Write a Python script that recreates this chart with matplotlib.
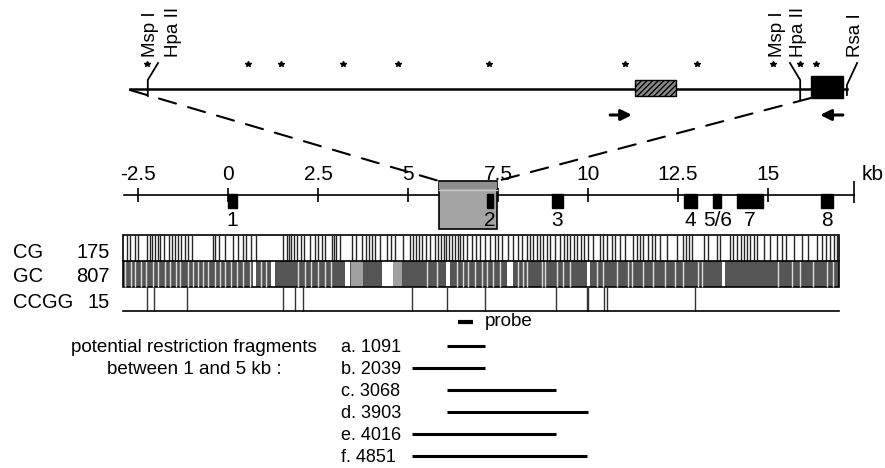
import numpy as np
import matplotlib
matplotlib.use("Agg")
import matplotlib.pyplot as plt
from matplotlib.patches import Rectangle, ConnectionPatch

plt.rcParams['font.family'] = ['Liberation Sans', 'DejaVu Sans']
plt.rcParams['hatch.color'] = '#222222'

# ---- data (kb on the map, bp on the enlarged top segment) ----
tick_kb = [-2.5, 0, 2.5, 5, 7.5, 10, 12.5, 15]
tick_lab = ['-2.5', '0', '2.5', '5', '7.5', '10', '12.5', '15']
map_start, map_end = -2.9, 17.4

exon_names = ['1', '2', '3', '4', '5/6', '7', '8']
exon_start = [0.0, 7.2, 9.0, 12.67, 13.47, 14.14, 16.47]
exon_end = [0.25, 7.35, 9.3, 13.03, 13.69, 14.86, 16.8]
exon_lab_x = [0.13, 7.27, 9.15, 12.85, 13.6, 14.5, 16.63]

zoom_box = (5.86, 7.47)
probe = (6.39, 6.81)

cg_sites = [-2.81, -2.72, -2.58, -2.50, -2.25, -2.18, -2.11, -2.03, -1.94, -1.89,
            -1.78, -1.63, -1.56, -1.46, -1.39, -1.31, -1.19, -1.10, -1.00, -0.43,
            -0.35, -0.24, -0.08, 0.15, 0.29, 0.42, 0.51, 0.65, 0.79, 1.54,
            1.63, 1.69, 1.76, 1.83, 1.92, 2.03, 2.11, 2.28, 2.42, 2.50,
            2.60, 2.69, 2.88, 2.94, 3.00, 3.11, 3.44, 3.56, 3.72, 3.83,
            3.92, 4.00, 4.08, 4.22, 4.42, 4.53, 4.64, 4.86, 5.06, 5.14,
            5.22, 5.31, 5.39, 5.50, 5.61, 5.75, 5.83, 5.92, 6.00, 6.06,
            6.13, 6.22, 6.31, 6.38, 6.44, 6.54, 6.64, 6.78, 6.89, 7.00,
            7.14, 7.28, 7.42, 7.51, 7.61, 7.79, 7.93, 8.06, 8.17, 8.31,
            8.39, 8.47, 8.58, 8.67, 8.76, 8.85, 8.94, 9.08, 9.22, 9.32,
            9.42, 9.50, 9.61, 9.69, 9.81, 9.90, 10.00, 10.14, 10.33, 10.43,
            10.53, 10.67, 10.75, 10.89, 11.03, 11.25, 11.36, 11.44, 11.54, 11.67,
            11.78, 11.86, 12.00, 12.19, 12.47, 12.64, 12.72, 12.81, 12.89, 13.21,
            13.33, 13.58, 13.67, 13.94, 14.04, 14.14, 14.24, 14.32, 14.42, 14.50,
            14.60, 14.69, 14.88, 15.06, 15.25, 15.39, 15.50, 15.71, 15.94, 16.11,
            16.36, 16.50, 16.61, 16.72, 16.82, 16.92]

# GC track: gaps between the dense GC sites
gc_thin_gaps = [-2.86, -2.69, -2.58, -2.42, -2.28, -2.08, -1.94, -1.75, -1.61, -1.44,
                -1.33, -1.11, -0.97, -0.83, -0.69, -0.56, -0.36, -0.22, -0.08, 0.08,
                0.25, 0.42, 0.61, 0.92, 1.06, 1.94, 2.14, 2.31, 2.50, 2.69,
                2.86, 5.52, 5.80, 6.35, 6.54, 6.68, 6.86, 7.05, 7.19, 7.37,
                7.56, 8.06, 8.20, 8.30, 8.71, 8.81, 9.13, 9.31, 9.50, 10.24,
                10.43, 10.80, 11.12, 11.21, 11.54, 11.81, 12.14, 12.42, 12.65, 13.06,
                13.16, 15.29, 15.66, 15.89, 16.26, 16.63, 16.81]
gc_wide_gaps = [(0.69, 0.79), (1.19, 1.31), (3.24, 3.38), (4.27, 4.59), (6.06, 6.17),
                (7.74, 7.93), (9.96, 10.06), (13.71, 13.81)]
gc_sparse = [(3.42, 3.75), (4.58, 4.83)]

ccgg_sites = [-2.25, -2.06, -1.14, 1.53, 1.86, 2.08, 5.11, 6.08, 7.14, 9.11,
              9.96, 10.0, 10.44, 10.53, 12.97]

frag_labels = ['a. 1091', 'b. 2039', 'c. 3068', 'd. 3903', 'e. 4016', 'f. 4851']
frag_start = [6.08, 5.11, 6.08, 6.08, 5.11, 5.11]
frag_end = [7.14, 7.14, 9.11, 10.0, 9.11, 9.96]

# enlarged segment (bp from the left end of the line)
seg_len = 1611
top_dots = [38, 265, 339, 479, 602, 807, 1112, 1274, 1445, 1506, 1542]
hatched = (1135, 1227)
black_box = (1530, 1602)
site_labels = ['Msp I', 'Hpa II', 'Msp I', 'Hpa II', 'Rsa I']
site_label_x = [45, 97, 1456, 1503, 1631]
arrow_fwd = (1079, 1128)
arrow_rev = (1602, 1551)

# ---- figure ----
fig = plt.figure(figsize=(8.85, 4.68), dpi=100)
ax = fig.add_axes([0, 0, 1, 1])
ax.set_xlim(-228 / 36, 657 / 36)
ax.set_ylim(468, 0)
ax.axis('off')

top = fig.add_axes([0, 0, 1, 1])
top.set_xlim(-130 / 0.445, 755 / 0.445)
top.set_ylim(468, 0)
top.axis('off')
top.patch.set_alpha(0)

fs = 15

# top segment
top.plot([0, seg_len], [89, 89], color='k', lw=1.8, zorder=2)
top.plot(top_dots, [64] * len(top_dots), ls='none', marker='*', ms=4, color='k')
top.add_patch(Rectangle((hatched[0], 80), hatched[1] - hatched[0], 16,
                        facecolor='#8a8a8a', edgecolor='k', lw=1, hatch='//////', zorder=3))
top.add_patch(Rectangle((black_box[0], 76), black_box[1] - black_box[0], 22,
                        facecolor='k', edgecolor='k', zorder=3))
top.plot([40, 40, 63], [96, 80, 63], color='k', lw=1.3)
top.plot([1483, 1506, 1506], [63, 80, 100], color='k', lw=1.3)
top.plot([1634, 1611, 1611], [63, 85, 95], color='k', lw=1.3)
for lab, x in zip(site_labels, site_label_x):
    top.text(x, 57, lab, rotation=90, ha='center', va='bottom', fontsize=13.5)
for a in (arrow_fwd, arrow_rev):
    top.annotate('', xy=(a[1], 115), xytext=(a[0], 115),
                 arrowprops=dict(arrowstyle='-|>', lw=2.2, color='k', mutation_scale=16,
                                 shrinkA=0, shrinkB=0))

# dashed connectors
for bp, y0, kb in [(0, 90, zoom_box[0]), (black_box[0], 98, zoom_box[1])]:
    con = ConnectionPatch(xyA=(bp, y0), coordsA=top.transData,
                          xyB=(kb, 181), coordsB=ax.transData,
                          ls=(0, (8.5, 6)), lw=1.5, color='k', zorder=1)
    fig.add_artist(con)

# kb map
ax.plot([map_start, map_end], [195, 195], color='k', lw=1.2)
ax.vlines(tick_kb, 188, 202, color='k', lw=1.2)
ax.vlines([map_end], 181, 203, color='k', lw=1.2)
for x, lab in zip(tick_kb, tick_lab):
    ax.text(x, 174, lab, ha='center', va='center', fontsize=fs)
ax.text(map_end + 0.2, 174, 'kb', ha='left', va='center', fontsize=fs)

ax.add_patch(Rectangle((zoom_box[0], 181), zoom_box[1] - zoom_box[0], 48,
                       facecolor='#a4a4a4', edgecolor='k', lw=1.2, zorder=4))
ax.add_patch(Rectangle((zoom_box[0], 182), zoom_box[1] - zoom_box[0], 7,
                       facecolor='#8e8e8e', edgecolor='none', zorder=4))
ax.plot(zoom_box, [190, 190], color='#c8c8c8', lw=1, zorder=4)

for s, e in zip(exon_start, exon_end):
    ax.add_patch(Rectangle((s, 194), e - s, 14, facecolor='k', edgecolor='k', zorder=5))
for x, lab in zip(exon_lab_x, exon_names):
    ax.text(x, 221, lab, ha='center', va='center', fontsize=fs, zorder=6)

# sequence tracks
t0, t1 = -2.92, 16.97
ax.vlines(cg_sites, 235, 261, color='#262626', lw=1.0)
ax.add_patch(Rectangle((t0, 261), t1 - t0, 26, facecolor='#555555', edgecolor='none'))
ax.vlines(gc_thin_gaps, 261, 287, color='white', lw=1.0, alpha=0.8)
for s, e in gc_wide_gaps:
    ax.add_patch(Rectangle((s, 261), e - s, 26, facecolor='white', edgecolor='none'))
for s, e in gc_sparse:
    ax.add_patch(Rectangle((s, 261), e - s, 26, facecolor='#a0a0a0', edgecolor='none'))
ax.add_patch(Rectangle((t0, 235), t1 - t0, 52, facecolor='none', edgecolor='k', lw=1.2))
ax.plot([t0, t1], [261, 261], color='k', lw=1.2)
ax.vlines(ccgg_sites, 287, 311, color='#333333', lw=1.0)
ax.plot([t0, t1], [311, 311], color='k', lw=1.2)

for y, name, n in [(252, 'CG', '175'), (276, 'GC', '807'), (302, 'CCGG', '15')]:
    ax.text(-215 / 36, y, name, ha='left', va='center', fontsize=14.5)
    ax.text(-118 / 36, y, n, ha='right', va='center', fontsize=14.5)

# probe and fragments
ax.plot(probe, [322, 322], color='k', lw=3, solid_capstyle='butt')
ax.text(probe[1] + 0.33, 321, 'probe', ha='left', va='center', fontsize=13.5)
ax.text(-34 / 36, 347, 'potential restriction fragments', ha='center', va='center', fontsize=13.6)
ax.text(-34 / 36, 369, 'between 1 and 5 kb :', ha='center', va='center', fontsize=13.6)
for i, (lab, s, e) in enumerate(zip(frag_labels, frag_start, frag_end)):
    y = 347 + 22 * i
    ax.text(113 / 36, y, lab, ha='left', va='center', fontsize=13)
    ax.plot([s, e], [y - 1, y - 1], color='k', lw=2.2, solid_capstyle='butt')

fig.savefig('out.png', dpi=100)
